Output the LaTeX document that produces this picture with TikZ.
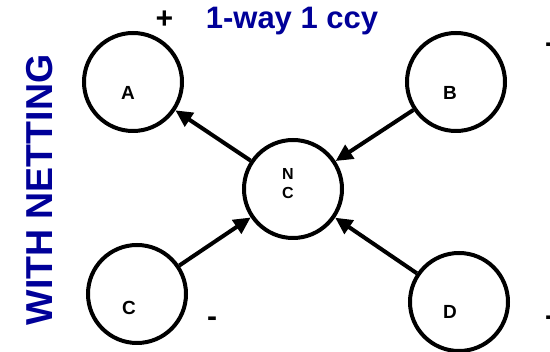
\documentclass[tikz,border=0pt]{standalone}
\usepackage{fontspec}
\setmainfont{Liberation Sans}
\usetikzlibrary{arrows.meta}
\definecolor{navy}{RGB}{0,0,153}
\begin{document}
\begin{tikzpicture}[x=1pt,y=-1pt,
  party/.style={draw=black,line width=4pt,circle,minimum size=98pt,inner sep=0pt},
  lbl/.style={font=\fontsize{19}{19}\selectfont\bfseries,inner sep=0pt},
  flow/.style={line width=4pt,-{Triangle[length=17pt,width=16pt]}},
  sign/.style={font=\fontsize{30}{30}\selectfont\bfseries,inner sep=0pt}]
\useasboundingbox (0,0) rectangle (550,352);
\node[party] (A) at (133,82) {};
\node[party] (B) at (456,82) {};
\node[party] (C) at (137,294) {};
\node[party] (D) at (459,302) {};
\node[party] (NC) at (293,189) {};
\node[lbl] (la) at (128,93) {A};
\node[lbl] (lb) at (450,93) {B};
\node[lbl] (lc) at (129,308) {C};
\node[lbl] (ld) at (450,312) {D};
\node[lbl,font=\fontsize{16}{16}\selectfont\bfseries,align=center] (lnc) at (288,184) {N\\[3pt]C};
\draw[flow] (NC) -- (A);
\draw[flow] (B) -- (NC);
\draw[flow] (C) -- (NC);
\draw[flow] (D) -- (NC);
\node[font=\fontsize{31}{31}\selectfont\bfseries,text=navy,inner sep=0pt] (title) at (292,21) {1-way 1 ccy};
\node[font=\fontsize{37.5}{37.5}\selectfont\bfseries,text=navy,inner sep=0pt,rotate=90] (side) at (40,190) {WITH NETTING};
\node[sign,font=\fontsize{30}{30}\selectfont\bfseries\itshape] (plus) at (164,20) {+};
\node[sign] (m1) at (212,322) {-};
\node[sign] (m2) at (550,48) {-};
\node[sign] (m3) at (550,321) {-};
\end{tikzpicture}
\end{document}
